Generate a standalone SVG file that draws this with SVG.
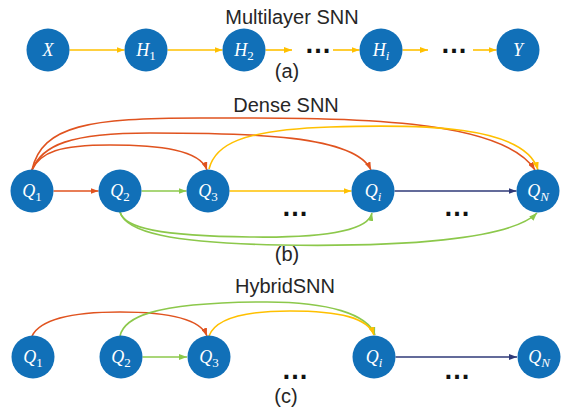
<svg xmlns="http://www.w3.org/2000/svg" width="561" height="409" viewBox="0 0 561 409">
<style>
.node{fill:#1170b8}
.lbl{font-family:"Liberation Serif","DejaVu Serif",serif;font-style:italic;font-size:18px;fill:#ffffff;text-anchor:middle}
.sub{font-size:13px}
.up{font-style:normal}
.title{font-family:"Liberation Sans",Arial,sans-serif;font-size:20px;fill:#262626;text-anchor:middle}
.dots{font-family:"Liberation Sans",Arial,sans-serif;font-size:27px;font-weight:bold;fill:#111111;text-anchor:middle}
.c{fill:none;stroke-width:1.6}
.y{stroke:#ffc000;marker-end:url(#aY)}
.r{stroke:#e0531f;marker-end:url(#aR)}
.g{stroke:#8cc84b;marker-end:url(#aG)}
.n{stroke:#2f3a78;marker-end:url(#aN)}
</style>
<defs>
<marker id="aY" markerUnits="userSpaceOnUse" markerWidth="8" markerHeight="6" refX="8" refY="3" orient="auto"><path d="M0,0 L8,3 L0,6 z" fill="#ffc000"/></marker>
<marker id="aR" markerUnits="userSpaceOnUse" markerWidth="8" markerHeight="6" refX="8" refY="3" orient="auto"><path d="M0,0 L8,3 L0,6 z" fill="#e0531f"/></marker>
<marker id="aG" markerUnits="userSpaceOnUse" markerWidth="8" markerHeight="6" refX="8" refY="3" orient="auto"><path d="M0,0 L8,3 L0,6 z" fill="#8cc84b"/></marker>
<marker id="aN" markerUnits="userSpaceOnUse" markerWidth="8" markerHeight="6" refX="8" refY="3" orient="auto"><path d="M0,0 L8,3 L0,6 z" fill="#2f3a78"/></marker>
</defs>

<!-- titles -->
<text class="title" x="292" y="24">Multilayer SNN</text>
<text class="title" x="287" y="78">(a)</text>
<text class="title" x="286" y="112">Dense SNN</text>
<text class="title" x="287" y="261">(b)</text>
<text class="title" x="285" y="293">HybridSNN</text>
<text class="title" x="286" y="403">(c)</text>

<!-- dots -->
<text class="dots" x="318" y="52.5">…</text>
<text class="dots" x="454" y="52.5">…</text>
<text class="dots" x="295" y="216">…</text>
<text class="dots" x="457" y="216">…</text>
<text class="dots" x="295" y="379">…</text>
<text class="dots" x="457" y="379">…</text>

<g id="connectors">
<!-- row a -->
<path class="c y" d="M69.5,50 H124.5"/>
<path class="c y" d="M167.5,50 H222.5"/>
<path class="c y" d="M265.5,50 H292"/>
<path class="c y" d="M333,50 H359.5"/>
<path class="c y" d="M402.5,50 H428"/>
<path class="c y" d="M473,50 H496.5"/>
<!-- row b -->
<path class="c r" d="M53.5,191 H98.5"/>
<path class="c g" d="M141.5,191 H186.5"/>
<path class="c y" d="M229.5,191 H351.5"/>
<path class="c n" d="M394.5,191 H516.5"/>
<path class="c r" d="M32,170 C40,152 60,145 110,145 C160,145 200,150 207,170"/>
<path class="c r" d="M32,170 C42,145 70,133 150,133 C250,133 355,135 371,170"/>
<path class="c r" d="M32,170 C42,125 90,118 200,118 C330,118 500,115 535,170"/>
<path class="c y" d="M209,169 C215,145 240,130 330,127 C420,124 525,125 538,170"/>
<path class="c g" d="M120,212 C124,228 160,236 250,237 C320,238 368,232 372,213"/>
<path class="c g" d="M120,212 C126,232 170,243 280,245 C400,247 510,240 537,213"/>
<!-- row c -->
<path class="c g" d="M142.5,357 H187"/>
<path class="c n" d="M395.5,357 H517"/>
<path class="c r" d="M32,336 C40,320 70,312 120,312 C165,312 200,318 207,336"/>
<path class="c g" d="M120,336 C124,318 150,303 260,302 C330,301 368,315 375,335"/>
<path class="c y" d="M209,336 C215,320 240,311 290,311 C340,311 368,318 374,335"/>
</g>

<!-- row a nodes -->
<g id="nX"><circle class="node" cx="48" cy="50" r="21.5"/><text class="lbl" x="48" y="56">X</text></g>
<g id="nH1"><circle class="node" cx="146" cy="50" r="21.5"/><text class="lbl" x="146" y="56">H<tspan class="sub up" dy="4">1</tspan></text></g>
<g id="nH2"><circle class="node" cx="244" cy="50" r="21.5"/><text class="lbl" x="244" y="56">H<tspan class="sub up" dy="4">2</tspan></text></g>
<g id="nHi"><circle class="node" cx="381" cy="50" r="21.5"/><text class="lbl" x="381" y="56">H<tspan class="sub" dy="4">i</tspan></text></g>
<g id="nY"><circle class="node" cx="518" cy="50" r="21.5"/><text class="lbl" x="518" y="56">Y</text></g>

<!-- row b nodes -->
<g id="bQ1"><circle class="node" cx="32" cy="191" r="21.5"/><text class="lbl" x="32" y="197">Q<tspan class="sub up" dy="4">1</tspan></text></g>
<g id="bQ2"><circle class="node" cx="120" cy="191" r="21.5"/><text class="lbl" x="120" y="197">Q<tspan class="sub up" dy="4">2</tspan></text></g>
<g id="bQ3"><circle class="node" cx="208" cy="191" r="21.5"/><text class="lbl" x="208" y="197">Q<tspan class="sub up" dy="4">3</tspan></text></g>
<g id="bQi"><circle class="node" cx="373" cy="191" r="21.5"/><text class="lbl" x="373" y="197">Q<tspan class="sub" dy="4">i</tspan></text></g>
<g id="bQN"><circle class="node" cx="538" cy="191" r="21.5"/><text class="lbl" x="538" y="197">Q<tspan class="sub" dy="4">N</tspan></text></g>

<!-- row c nodes -->
<g id="cQ1"><circle class="node" cx="33" cy="357" r="21.5"/><text class="lbl" x="33" y="363">Q<tspan class="sub up" dy="4">1</tspan></text></g>
<g id="cQ2"><circle class="node" cx="121" cy="357" r="21.5"/><text class="lbl" x="121" y="363">Q<tspan class="sub up" dy="4">2</tspan></text></g>
<g id="cQ3"><circle class="node" cx="209" cy="357" r="21.5"/><text class="lbl" x="209" y="363">Q<tspan class="sub up" dy="4">3</tspan></text></g>
<g id="cQi"><circle class="node" cx="374" cy="357" r="21.5"/><text class="lbl" x="374" y="363">Q<tspan class="sub" dy="4">i</tspan></text></g>
<g id="cQN"><circle class="node" cx="539" cy="357" r="21.5"/><text class="lbl" x="539" y="363">Q<tspan class="sub" dy="4">N</tspan></text></g>
</svg>
